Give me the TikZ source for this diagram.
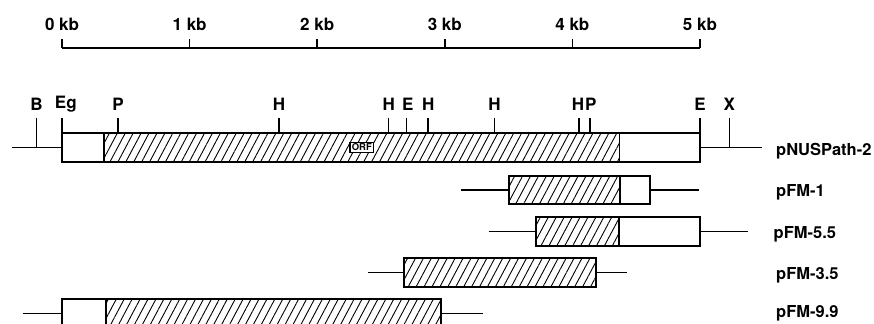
\documentclass[tikz,border=0pt]{standalone}
\usepackage{fontspec}
\setmainfont{TeX Gyre Heros}
\usetikzlibrary{patterns.meta}

\begin{document}
\begin{tikzpicture}[
    x=127.6pt, y=-1pt,
    kbaxis/.style={draw, line width=1.7pt},
    kblabel/.style={font=\bfseries\fontsize{17}{17}\selectfont},
    dna/.style={draw, line width=1.6pt},
    insert/.style={draw, line width=1.8pt, fill=white},
    orf/.style={draw, line width=1.8pt, pattern={Lines[angle=62, distance=7pt, line width=0.9pt]}},
    site/.style={font=\bfseries\fontsize{17}{17}\selectfont},
    clone/.style={font=\bfseries\fontsize{16.5}{17}\selectfont, anchor=west},
    orfbox/.style={draw, line width=1.2pt, fill=white, inner sep=1.8pt, font=\bfseries\fontsize{9.5}{9.5}\selectfont}
]
\useasboundingbox (-0.486, 0) rectangle (6.364, 324);

% scale bar
\draw[kbaxis] (0,48) -- (5,48);
\foreach \k in {0,...,5} {
  \draw[kbaxis] (\k,48) -- (\k,39);
  \node[kblabel] (kb\k) at (\k,24) {\k\ kb};
}

% pNUSPath-2
\draw[dna] (-0.39,147.5) -- (5.49,147.5);
\draw[insert] (0,133) rectangle (5,162);
\draw[orf] (0.33,133) rectangle (4.37,162);
\node[orfbox] (orf) at (2.35,147.5) {ORF};
\node[clone] (path2) at (5.57,151) {pNUSPath-2};

% restriction sites
\draw[dna] (-0.2,118) -- (-0.2,147.5);
\draw[dna] (5.23,118) -- (5.23,147.5);
\foreach \p in {0,0.44,1.70,2.56,2.70,2.87,3.39,4.05,4.14,5.0}
  \draw[dna] (\p,118) -- (\p,133);
\node[site] (sB)  at (-0.2,104)  {B};
\node[site] (sEg) at (0.03,104)  {Eg};
\node[site] (sP1) at (0.44,104)  {P};
\node[site] (sH1) at (1.70,104)  {H};
\node[site] (sH2) at (2.56,104)  {H};
\node[site] (sE1) at (2.71,104)  {E};
\node[site] (sH3) at (2.87,104)  {H};
\node[site] (sH4) at (3.39,104)  {H};
\node[site] (sH5) at (4.045,104) {H};
\node[site] (sP2) at (4.145,104) {P};
\node[site] (sE2) at (5.0,104)   {E};
\node[site] (sX)  at (5.23,104)  {X};

% pFM-1
\draw[dna] (3.127,190) -- (4.99,190);
\draw[insert] (3.503,176) rectangle (4.608,204);
\draw[orf] (3.503,176) rectangle (4.373,204);
\node[clone] (fm1) at (5.57,192) {pFM-1};

% pFM-5.5
\draw[dna] (3.346,231.5) -- (5.376,231.5);
\draw[insert] (3.715,217) rectangle (5.0,246);
\draw[orf] (3.715,217) rectangle (4.365,246);
\node[clone] (fm55) at (5.55,234) {pFM-5.5};

% pFM-3.5
\draw[dna] (2.398,272.5) -- (4.428,272.5);
\draw[orf, fill=white] (2.68,258) rectangle (4.185,287);
\draw[orf] (2.68,258) rectangle (4.185,287);
\node[clone] (fm35) at (5.57,275) {pFM-3.5};

% pFM-9.9
\draw[dna] (-0.306,313.5) -- (3.299,313.5);
\draw[insert] (0,299) rectangle (2.97,328);
\draw[orf] (0.345,299) rectangle (2.97,328);
\node[clone] (fm99) at (5.57,313) {pFM-9.9};
\end{tikzpicture}
\end{document}
